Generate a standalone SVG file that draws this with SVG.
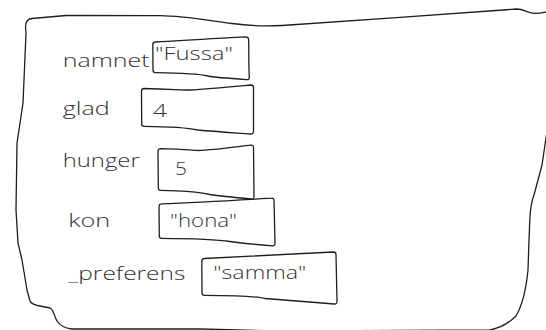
<svg xmlns="http://www.w3.org/2000/svg" width="546" height="330" viewBox="0 0 546 330">
<style>
  .ln{fill:none;stroke:#1e1e1e;stroke-width:1.3;stroke-linecap:round;stroke-linejoin:round}
  .bx{fill:#ffffff;stroke:#1e1e1e;stroke-width:1.3;stroke-linecap:round;stroke-linejoin:round}
  .t{font-family:"Open Sans","Noto Sans","Liberation Sans",sans-serif;font-weight:300;font-size:19px;fill:#333333}
</style>
<rect width="546" height="330" fill="#ffffff"/>
<g id="frame">
  <path class="ln" d="M 552,11 C 545,12 540,13.5 534,13.3 C 527,13 524,9 517,9 L 400,17.3 L 282,25.5 C 262,26.5 250,26 232,23.5 C 205,20 185,16 160,15.7 L 66,15.5 L 32,18.5 C 27,19 25.5,22 25.5,27 L 26,33 L 23,103 L 17,143 L 16,210 L 18,243 L 22,260 L 27,290 L 30,301 C 31,304 35,305 40,306 L 50,308 C 54,310 54,316 57,321 C 60,326 65,328 72,329 L 200,329 L 280,331 L 490,330 C 500,328 510,322 516,316 C 522,306 526,290 528,270 L 529,240 L 530,215 C 531,205 532,200 534,195 L 542,165 L 546,138 L 549,120"/>
</g>
<g id="connectors"></g>
<g id="namnet">
  <text class="t" x="62.7" y="67" textLength="87" lengthAdjust="spacingAndGlyphs">namnet</text>
  <path class="bx" d="M 155.5,42 C 185,40 215,38.5 245.5,36.8 Q 248.5,36.8 248.6,39.5 C 249,52 248.6,66 249.3,77.5 Q 249.3,80 246.5,79.6 C 230,78.5 215,77.5 208,76 C 200,74 185,73 155.5,72.6 Q 153,72.6 153,70 L 152.8,44.5 Q 153,42 155.5,42 Z"/>
  <text class="t" x="155" y="60" textLength="78" lengthAdjust="spacingAndGlyphs">"Fussa"</text>
</g>
<g id="glad">
  <text class="t" x="62.7" y="115" textLength="47" lengthAdjust="spacingAndGlyphs">glad</text>
  <path class="bx" d="M 144,88.5 C 170,89 180,90 190,90 C 210,89 235,86.5 251,85 Q 253.5,85 253.5,87.5 L 253.5,131.5 Q 253.3,134.3 250.5,134 C 230,132.5 215,131.5 198,130 C 185,127 165,126.5 144,126.3 Q 141.7,126.3 141.7,124 L 141.5,91 Q 141.7,88.5 144,88.5 Z"/>
  <text class="t" x="153" y="117" textLength="14" lengthAdjust="spacingAndGlyphs">4</text>
</g>
<g id="hunger">
  <text class="t" x="62.7" y="167" textLength="77" lengthAdjust="spacingAndGlyphs">hunger</text>
  <path class="bx" d="M 160.5,148.6 C 180,149 190,150 198,150.5 C 215,150 235,147 251,145.2 Q 253.5,145 253.5,147.5 L 254,196.5 Q 254,199.5 251,199 C 235,197.5 220,196 210,194.5 C 195,191 180,190.5 160.5,190.3 Q 158.3,190.3 158.3,188 L 158,151 Q 158.3,148.6 160.5,148.6 Z"/>
  <text class="t" x="175" y="175" textLength="12" lengthAdjust="spacingAndGlyphs">5</text>
</g>
<g id="kon">
  <text class="t" x="68.3" y="227" textLength="42" lengthAdjust="spacingAndGlyphs">kon</text>
  <path class="bx" d="M 161.5,203.8 C 200,202.5 240,200 271.5,198.2 Q 274,198 274,200.5 L 275,243.5 Q 275,246 272.5,245.8 C 255,244.5 240,243 230,241.5 C 215,239 190,238.5 161.5,238.3 Q 159.3,238.3 159.3,236 L 159,206.5 Q 159.3,203.8 161.5,203.8 Z"/>
  <text class="t" x="170" y="227" textLength="67" lengthAdjust="spacingAndGlyphs">"hona"</text>
</g>
<g id="preferens">
  <text class="t" x="68.3" y="280" textLength="117" lengthAdjust="spacingAndGlyphs">_preferens</text>
  <path class="bx" d="M 204.5,258.5 C 250,256.5 295,254 333.5,252 Q 336,252 336,254.5 L 337,301.5 Q 337,304.3 334,304 C 310,302 285,300 265,298.5 C 255,296 235,295.5 204.5,295.3 Q 202,295.3 202,293 L 201.8,261 Q 202,258.5 204.5,258.5 Z"/>
  <text class="t" x="213.3" y="278.5" textLength="93" lengthAdjust="spacingAndGlyphs">"samma"</text>
</g>
</svg>
